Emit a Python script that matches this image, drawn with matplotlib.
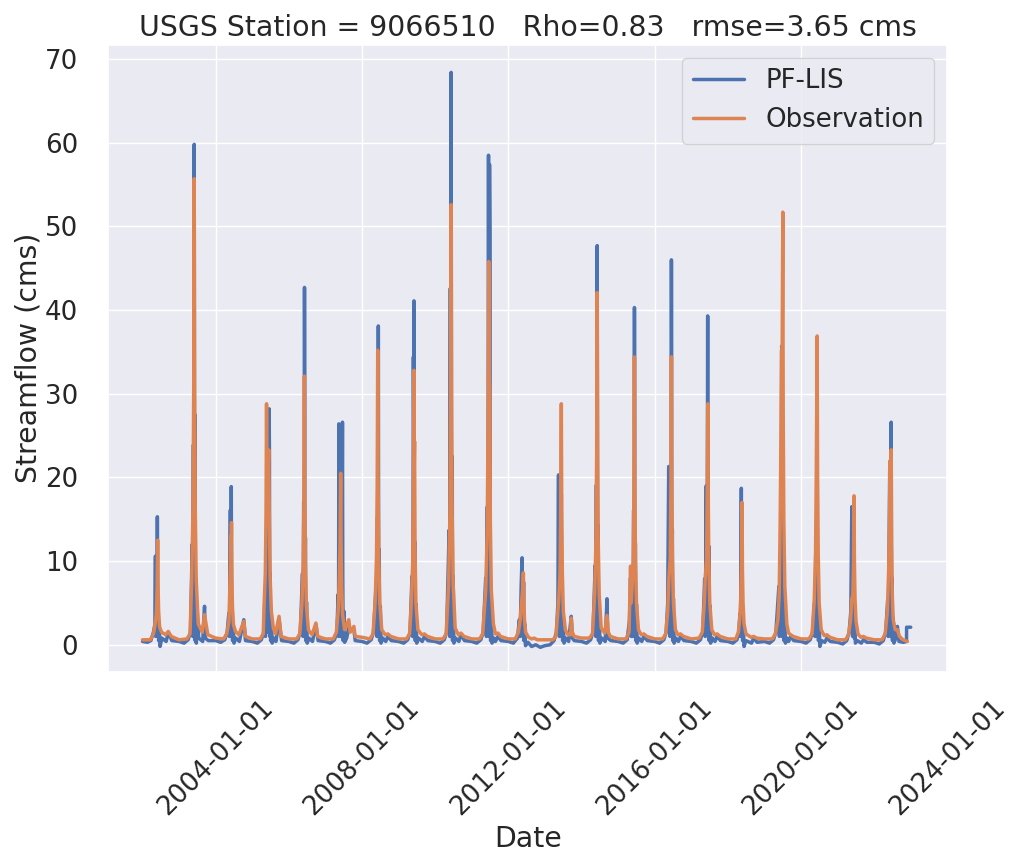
import pandas as pd
import matplotlib.pyplot as plt
import matplotlib.dates as mdates
import seaborn as sns

obs_points = [
    ("2002-01-01", 0.6), ("2002-03-20", 0.6), ("2002-04-20", 1.3), ("2002-05-07", 2.5), ("2002-05-20", 3.8), ("2002-05-27", 6.9), ("2002-06-01", 12.5), ("2002-06-05", 6.9), ("2002-06-11", 3.8), ("2002-06-21", 2.1), ("2002-07-11", 1.5), ("2002-08-20", 1.2), ("2002-09-15", 1.6), ("2002-10-15", 1.0),
    ("2003-01-01", 0.6), ("2003-03-20", 0.7), ("2003-04-20", 1.3), ("2003-05-07", 7.7), ("2003-05-20", 16.7), ("2003-05-27", 30.6), ("2003-06-01", 55.7), ("2003-06-05", 30.6), ("2003-06-08", 24.0), ("2003-06-11", 16.7), ("2003-06-21", 7.7), ("2003-07-11", 2.5), ("2003-08-20", 1.5), ("2003-09-12", 3.6), ("2003-10-15", 1.2),
    ("2004-01-01", 0.8), ("2004-03-20", 0.7), ("2004-04-20", 1.3), ("2004-05-13", 2.8), ("2004-05-26", 9.0), ("2004-05-30", 13.0), ("2004-06-02", 9.5), ("2004-06-07", 14.6), ("2004-06-11", 8.0), ("2004-06-17", 4.4), ("2004-06-27", 2.4), ("2004-07-17", 1.6), ("2004-08-20", 1.2), ("2004-10-08", 2.8), ("2004-10-25", 1.0),
    ("2005-01-01", 0.7), ("2005-03-20", 0.7), ("2005-04-20", 1.3), ("2005-04-28", 4.5), ("2005-05-11", 8.6), ("2005-05-18", 15.8), ("2005-05-23", 28.8), ("2005-05-28", 18.0), ("2005-06-05", 20.0), ("2005-06-14", 23.3), ("2005-06-20", 15.0), ("2005-06-28", 8.0), ("2005-07-10", 4.0), ("2005-07-30", 2.0), ("2005-08-20", 1.3), ("2005-09-25", 3.4), ("2005-10-15", 1.0),
    ("2006-01-01", 0.7), ("2006-03-20", 0.7), ("2006-04-20", 1.3), ("2006-05-11", 4.9), ("2006-05-24", 9.6), ("2006-05-31", 17.7), ("2006-06-05", 32.1), ("2006-06-09", 17.7), ("2006-06-15", 9.6), ("2006-06-25", 4.7), ("2006-07-15", 1.8), ("2006-08-20", 1.2), ("2006-09-28", 2.6), ("2006-10-15", 1.0),
    ("2007-01-01", 0.7), ("2007-03-20", 0.7), ("2007-04-20", 1.5), ("2007-05-08", 4.0), ("2007-05-20", 8.0), ("2007-05-27", 12.0), ("2007-06-02", 20.5), ("2007-06-06", 12.0), ("2007-06-12", 7.0), ("2007-06-22", 3.5), ("2007-07-12", 1.8), ("2007-08-22", 3.0), ("2007-09-05", 1.5), ("2007-10-12", 2.2), ("2007-10-25", 1.0),
    ("2008-01-01", 0.9), ("2008-03-20", 0.7), ("2008-04-20", 1.3), ("2008-05-12", 5.2), ("2008-05-25", 10.6), ("2008-06-01", 19.4), ("2008-06-06", 35.2), ("2008-06-10", 19.4), ("2008-06-16", 10.6), ("2008-06-26", 5.1), ("2008-07-16", 1.8), ("2008-08-20", 1.2), ("2008-09-15", 1.3), ("2008-10-15", 1.0),
    ("2009-01-01", 0.7), ("2009-03-20", 0.7), ("2009-04-20", 1.3), ("2009-05-08", 5.0), ("2009-05-21", 9.8), ("2009-05-28", 18.0), ("2009-06-02", 32.8), ("2009-06-06", 22.0), ("2009-06-09", 24.3), ("2009-06-13", 12.0), ("2009-06-22", 5.0), ("2009-07-12", 1.8), ("2009-08-20", 1.2), ("2009-09-15", 1.3), ("2009-10-15", 1.0),
    ("2010-01-01", 0.7), ("2010-03-20", 0.7), ("2010-04-20", 1.3), ("2010-05-15", 7.3), ("2010-05-28", 15.8), ("2010-06-04", 28.9), ("2010-06-09", 52.6), ("2010-06-13", 28.9), ("2010-06-19", 15.8), ("2010-06-29", 7.3), ("2010-07-19", 2.0), ("2010-08-20", 1.2), ("2010-09-15", 1.4), ("2010-10-15", 1.0),
    ("2011-01-01", 0.7), ("2011-03-20", 0.7), ("2011-04-20", 1.3), ("2011-05-20", 6.5), ("2011-06-04", 13.7), ("2011-06-12", 25.2), ("2011-06-20", 45.8), ("2011-06-25", 32.0), ("2011-06-30", 30.0), ("2011-07-05", 15.0), ("2011-07-15", 6.5), ("2011-08-05", 2.5), ("2011-08-25", 1.3), ("2011-09-20", 1.4), ("2011-10-15", 1.0),
    ("2012-01-01", 0.7), ("2012-03-10", 0.7), ("2012-04-10", 1.5), ("2012-04-28", 3.0), ("2012-05-12", 5.0), ("2012-05-22", 6.5), ("2012-05-30", 8.6), ("2012-06-04", 5.0), ("2012-06-10", 3.0), ("2012-06-22", 1.5), ("2012-07-20", 0.9), ("2012-08-20", 0.7), ("2012-09-15", 0.8), ("2012-10-15", 0.6),
    ("2013-01-01", 0.6), ("2013-03-20", 0.6), ("2013-04-20", 1.0), ("2013-05-10", 4.0), ("2013-05-19", 5.5), ("2013-05-31", 8.6), ("2013-06-07", 15.8), ("2013-06-13", 28.8), ("2013-06-17", 15.8), ("2013-06-23", 8.6), ("2013-07-03", 4.0), ("2013-07-23", 1.8), ("2013-08-20", 1.2), ("2013-09-14", 1.2), ("2013-09-20", 3.2), ("2013-10-01", 1.5), ("2013-10-20", 1.0),
    ("2014-01-01", 0.8), ("2014-03-20", 0.8), ("2014-04-20", 1.3), ("2014-05-12", 6.2), ("2014-05-25", 12.6), ("2014-06-01", 23.2), ("2014-06-06", 42.1), ("2014-06-10", 23.2), ("2014-06-16", 12.6), ("2014-06-26", 6.0), ("2014-07-16", 2.0), ("2014-08-20", 1.4), ("2014-09-12", 3.5), ("2014-09-25", 1.5), ("2014-10-15", 1.0),
    ("2015-01-01", 0.7), ("2015-03-20", 0.7), ("2015-04-20", 1.5), ("2015-05-05", 9.4), ("2015-05-12", 5.0), ("2015-05-25", 8.0), ("2015-06-01", 10.3), ("2015-06-08", 18.9), ("2015-06-13", 34.4), ("2015-06-17", 18.9), ("2015-06-23", 10.3), ("2015-07-03", 5.0), ("2015-07-23", 1.8), ("2015-08-20", 1.2), ("2015-09-15", 1.3), ("2015-10-15", 1.0),
    ("2016-01-01", 0.7), ("2016-03-20", 0.7), ("2016-04-20", 1.3), ("2016-05-10", 4.0), ("2016-05-22", 8.0), ("2016-06-04", 10.3), ("2016-06-11", 18.9), ("2016-06-16", 34.4), ("2016-06-20", 18.9), ("2016-06-26", 10.3), ("2016-07-06", 5.0), ("2016-07-26", 1.8), ("2016-08-20", 1.2), ("2016-09-15", 1.3), ("2016-10-15", 1.0),
    ("2017-01-01", 0.7), ("2017-03-20", 0.8), ("2017-04-20", 1.5), ("2017-05-10", 5.0), ("2017-05-20", 8.0), ("2017-06-02", 10.3), ("2017-06-09", 18.9), ("2017-06-14", 28.8), ("2017-06-18", 18.9), ("2017-06-24", 10.3), ("2017-07-04", 5.0), ("2017-07-24", 1.8), ("2017-08-20", 1.2), ("2017-09-15", 1.3), ("2017-10-15", 1.0),
    ("2018-01-01", 0.7), ("2018-03-20", 0.7), ("2018-04-15", 1.5), ("2018-04-28", 3.0), ("2018-05-08", 5.0), ("2018-05-15", 9.0), ("2018-05-22", 17.0), ("2018-05-26", 9.0), ("2018-06-01", 5.0), ("2018-06-11", 2.5), ("2018-07-01", 1.3), ("2018-08-20", 0.9), ("2018-09-15", 1.0), ("2018-10-15", 0.8),
    ("2019-01-01", 0.7), ("2019-03-20", 0.7), ("2019-04-20", 1.3), ("2019-05-15", 3.0), ("2019-05-28", 6.0), ("2019-06-06", 14.0), ("2019-06-14", 24.0), ("2019-06-20", 35.0), ("2019-06-27", 35.8), ("2019-07-03", 51.7), ("2019-07-07", 28.0), ("2019-07-13", 15.0), ("2019-07-23", 7.0), ("2019-08-12", 2.5), ("2019-08-30", 1.4), ("2019-09-20", 1.2), ("2019-10-15", 1.0),
    ("2020-01-01", 0.7), ("2020-03-20", 0.7), ("2020-04-20", 1.3), ("2020-05-12", 5.4), ("2020-05-25", 11.1), ("2020-06-01", 20.3), ("2020-06-10", 36.9), ("2020-06-14", 20.3), ("2020-06-20", 11.1), ("2020-06-30", 5.0), ("2020-07-20", 1.8), ("2020-08-20", 1.1), ("2020-09-15", 1.2), ("2020-10-15", 0.9),
    ("2021-01-01", 0.6), ("2021-03-20", 0.6), ("2021-04-20", 1.2), ("2021-05-10", 3.0), ("2021-05-22", 5.5), ("2021-06-01", 6.0), ("2021-06-08", 9.8), ("2021-06-13", 17.8), ("2021-06-17", 9.8), ("2021-06-23", 5.5), ("2021-07-03", 2.8), ("2021-07-23", 1.3), ("2021-08-20", 0.9), ("2021-09-15", 1.0), ("2021-10-15", 0.8),
    ("2022-01-01", 0.6), ("2022-03-20", 0.6), ("2022-04-20", 1.3), ("2022-05-12", 4.0), ("2022-05-25", 9.0), ("2022-06-01", 14.0), ("2022-06-08", 22.0), ("2022-06-13", 14.0), ("2022-06-19", 23.3), ("2022-06-23", 12.0), ("2022-06-29", 6.5), ("2022-07-09", 3.0), ("2022-07-29", 1.8), ("2022-08-20", 1.8), ("2022-09-10", 1.0), ("2022-10-15", 0.6), ("2022-11-27", 0.4),
]

pf_points = [
    ("2002-01-01", 0.4), ("2002-02-20", 0.3), ("2002-03-25", 0.5), ("2002-04-20", 1.5), ("2002-05-05", 2.5), ("2002-05-10", 10.6), ("2002-05-13", 1.0), ("2002-05-21", 6.1), ("2002-05-24", 1.5), ("2002-05-28", 9.2), ("2002-05-29", 15.3), ("2002-05-31", 7.6), ("2002-06-03", 1.0), ("2002-06-07", 4.6), ("2002-06-11", 0.5), ("2002-06-18", 1.8), ("2002-06-25", -0.2), ("2002-07-13", 0.8), ("2002-08-25", 0.4), ("2002-09-15", 1.5), ("2002-10-20", 0.5),
    ("2003-01-01", 0.4), ("2003-02-20", 0.2), ("2003-04-01", 0.6), ("2003-04-25", 1.5), ("2003-05-12", 12.0), ("2003-05-18", 1.0), ("2003-05-24", 23.9), ("2003-05-27", 1.5), ("2003-05-30", 30.8), ("2003-06-01", 59.8), ("2003-06-03", 29.9), ("2003-06-05", 1.0), ("2003-06-08", 27.5), ("2003-06-11", 0.5), ("2003-06-16", 8.0), ("2003-06-22", 0.2), ("2003-07-01", 4.0), ("2003-07-16", 0.8), ("2003-08-25", 0.4), ("2003-09-12", 4.6), ("2003-09-20", 0.8), ("2003-10-20", 0.5),
    ("2004-01-01", 0.5), ("2004-02-20", 0.3), ("2004-04-01", 0.6), ("2004-04-25", 1.5), ("2004-05-12", 3.8), ("2004-05-18", 1.0), ("2004-05-27", 16.1), ("2004-05-30", 1.5), ("2004-06-04", 11.3), ("2004-06-05", 18.9), ("2004-06-07", 9.5), ("2004-06-10", 1.0), ("2004-06-14", 5.7), ("2004-06-18", 0.5), ("2004-06-25", 2.3), ("2004-07-02", 0.2), ("2004-07-20", 0.8), ("2004-08-25", 0.4), ("2004-10-08", 3.0), ("2004-10-25", 0.5),
    ("2005-01-01", 0.4), ("2005-02-20", 0.2), ("2005-04-01", 0.6), ("2005-04-25", 1.5), ("2005-05-08", 5.8), ("2005-05-12", 1.0), ("2005-05-20", 11.5), ("2005-05-26", 1.5), ("2005-06-01", 17.0), ("2005-06-05", 2.0), ("2005-06-12", 16.9), ("2005-06-18", 28.2), ("2005-06-21", 23.0), ("2005-06-24", 1.0), ("2005-06-28", 8.5), ("2005-07-03", 0.5), ("2005-07-10", 3.4), ("2005-07-18", 0.2), ("2005-08-05", 0.8), ("2005-08-25", 0.4), ("2005-09-25", 3.0), ("2005-10-20", 0.5),
    ("2006-01-01", 0.4), ("2006-02-20", 0.2), ("2006-04-01", 0.6), ("2006-04-25", 1.5), ("2006-05-17", 8.5), ("2006-05-23", 1.0), ("2006-05-29", 17.1), ("2006-06-01", 1.5), ("2006-06-05", 25.6), ("2006-06-06", 42.7), ("2006-06-08", 21.4), ("2006-06-11", 1.0), ("2006-06-15", 12.8), ("2006-06-19", 0.5), ("2006-06-26", 5.1), ("2006-07-03", 0.2), ("2006-07-21", 0.8), ("2006-08-25", 0.4), ("2006-09-28", 2.4), ("2006-10-20", 0.5),
    ("2007-01-01", 0.4), ("2007-02-20", 0.2), ("2007-04-01", 0.6), ("2007-04-25", 1.5), ("2007-05-08", 6.0), ("2007-05-12", 1.0), ("2007-05-15", 26.4), ("2007-05-18", 10.0), ("2007-05-22", 1.5), ("2007-05-27", 12.0), ("2007-05-31", 1.0), ("2007-06-05", 15.0), ("2007-06-10", 1.0), ("2007-06-16", 14.0), ("2007-06-20", 26.6), ("2007-06-23", 8.0), ("2007-06-27", 0.5), ("2007-07-05", 4.0), ("2007-07-12", 0.3), ("2007-08-01", 0.8), ("2007-08-22", 2.0), ("2007-10-12", 1.8), ("2007-10-25", 0.5),
    ("2008-01-01", 0.4), ("2008-02-20", 0.2), ("2008-04-01", 0.6), ("2008-04-25", 1.5), ("2008-05-23", 7.6), ("2008-05-29", 1.0), ("2008-06-04", 15.2), ("2008-06-07", 1.5), ("2008-06-11", 22.9), ("2008-06-12", 38.1), ("2008-06-14", 19.0), ("2008-06-17", 1.0), ("2008-06-21", 11.4), ("2008-06-25", 0.5), ("2008-07-02", 4.6), ("2008-07-09", 0.2), ("2008-07-27", 0.8), ("2008-08-25", 0.4), ("2008-09-15", 1.0), ("2008-10-20", 0.5),
    ("2009-01-01", 0.4), ("2009-02-20", 0.2), ("2009-04-01", 0.6), ("2009-04-25", 1.5), ("2009-05-14", 8.2), ("2009-05-20", 1.0), ("2009-05-25", 16.4), ("2009-05-28", 34.4), ("2009-06-01", 24.7), ("2009-06-03", 41.1), ("2009-06-05", 20.5), ("2009-06-08", 1.0), ("2009-06-12", 12.3), ("2009-06-16", 0.5), ("2009-06-23", 4.9), ("2009-06-30", 0.2), ("2009-07-18", 0.8), ("2009-08-25", 0.4), ("2009-09-15", 1.0), ("2009-10-20", 0.5),
    ("2010-01-01", 0.4), ("2010-02-20", 0.2), ("2010-04-01", 0.6), ("2010-04-25", 1.5), ("2010-05-20", 13.7), ("2010-05-26", 1.0), ("2010-06-01", 42.6), ("2010-06-04", 1.5), ("2010-06-08", 41.0), ("2010-06-09", 68.4), ("2010-06-11", 34.2), ("2010-06-14", 1.0), ("2010-06-20", 22.5), ("2010-06-23", 0.5), ("2010-06-29", 8.2), ("2010-07-06", 0.2), ("2010-07-24", 0.8), ("2010-08-25", 0.4), ("2010-09-15", 1.2), ("2010-10-20", 0.5),
    ("2011-01-01", 0.4), ("2011-02-20", 0.2), ("2011-04-01", 0.6), ("2011-04-25", 1.5), ("2011-05-20", 8.0), ("2011-05-27", 1.0), ("2011-06-05", 16.5), ("2011-06-09", 1.5), ("2011-06-14", 30.0), ("2011-06-17", 58.5), ("2011-06-20", 30.0), ("2011-06-23", 1.0), ("2011-06-27", 57.4), ("2011-07-01", 49.2), ("2011-07-04", 10.0), ("2011-07-08", 0.5), ("2011-07-15", 5.0), ("2011-07-22", 0.2), ("2011-08-10", 0.8), ("2011-08-25", 0.4), ("2011-09-20", 1.0), ("2011-10-20", 0.5),
    ("2012-01-01", 0.4), ("2012-02-20", 0.2), ("2012-04-01", 0.8), ("2012-04-20", 3.0), ("2012-04-28", 1.0), ("2012-05-08", 7.0), ("2012-05-17", 10.4), ("2012-05-22", 5.0), ("2012-05-26", 1.0), ("2012-06-01", 7.5), ("2012-06-05", 0.5), ("2012-06-12", 2.5), ("2012-06-20", -0.1), ("2012-07-15", 0.3), ("2012-08-20", -0.2), ("2012-10-01", 0.0), ("2012-11-15", -0.3),
    ("2013-01-01", -0.1), ("2013-02-20", 0.0), ("2013-04-01", 0.5), ("2013-04-25", 1.5), ("2013-05-10", 5.0), ("2013-05-16", 20.3), ("2013-05-19", 3.0), ("2013-05-25", 1.0), ("2013-05-31", 11.5), ("2013-06-05", 1.5), ("2013-06-10", 14.0), ("2013-06-13", 18.0), ("2013-06-15", 9.0), ("2013-06-18", 1.0), ("2013-06-22", 5.2), ("2013-06-26", 0.5), ("2013-07-03", 2.5), ("2013-07-10", 0.2), ("2013-07-28", 0.8), ("2013-08-25", 0.4), ("2013-09-20", 3.4), ("2013-10-01", 0.8), ("2013-10-20", 0.5),
    ("2014-01-01", 0.4), ("2014-02-20", 0.2), ("2014-04-01", 0.6), ("2014-04-25", 1.5), ("2014-05-17", 9.5), ("2014-05-23", 1.0), ("2014-05-29", 19.1), ("2014-06-01", 1.5), ("2014-06-05", 28.6), ("2014-06-06", 47.7), ("2014-06-08", 23.9), ("2014-06-11", 1.0), ("2014-06-15", 14.3), ("2014-06-19", 0.5), ("2014-06-26", 5.7), ("2014-07-03", 0.2), ("2014-07-21", 0.8), ("2014-08-25", 0.4), ("2014-09-12", 5.5), ("2014-09-20", 0.8), ("2014-10-20", 0.5),
    ("2015-01-01", 0.4), ("2015-02-20", 0.2), ("2015-04-01", 0.6), ("2015-04-25", 3.0), ("2015-05-05", 8.0), ("2015-05-12", 1.0), ("2015-05-24", 8.1), ("2015-05-30", 1.0), ("2015-06-05", 16.1), ("2015-06-08", 1.5), ("2015-06-12", 24.2), ("2015-06-13", 40.3), ("2015-06-15", 20.2), ("2015-06-18", 1.0), ("2015-06-22", 12.1), ("2015-06-26", 0.5), ("2015-07-03", 4.8), ("2015-07-10", 0.2), ("2015-07-28", 0.8), ("2015-08-25", 0.4), ("2015-09-15", 1.0), ("2015-10-20", 0.5),
    ("2016-01-01", 0.4), ("2016-02-20", 0.2), ("2016-04-01", 0.6), ("2016-04-25", 1.5), ("2016-05-10", 5.0), ("2016-05-20", 21.3), ("2016-05-24", 3.0), ("2016-06-02", 1.0), ("2016-06-08", 18.4), ("2016-06-11", 1.5), ("2016-06-15", 27.6), ("2016-06-16", 46.0), ("2016-06-18", 23.0), ("2016-06-21", 1.0), ("2016-06-25", 13.8), ("2016-06-29", 0.5), ("2016-07-06", 5.5), ("2016-07-13", 0.2), ("2016-07-31", 0.8), ("2016-08-25", 0.4), ("2016-09-15", 1.0), ("2016-10-20", 0.5),
    ("2017-01-01", 0.4), ("2017-02-20", 0.2), ("2017-04-01", 0.6), ("2017-04-25", 1.5), ("2017-05-14", 7.9), ("2017-05-20", 1.0), ("2017-05-30", 19.0), ("2017-06-03", 1.5), ("2017-06-10", 20.0), ("2017-06-13", 39.3), ("2017-06-15", 15.0), ("2017-06-17", 27.1), ("2017-06-20", 1.0), ("2017-06-24", 11.8), ("2017-06-28", 0.5), ("2017-07-05", 4.7), ("2017-07-12", 0.2), ("2017-07-30", 0.8), ("2017-08-25", 0.4), ("2017-09-15", 1.0), ("2017-10-20", 0.5),
    ("2018-01-01", 0.4), ("2018-02-20", 0.2), ("2018-04-01", 0.6), ("2018-04-20", 1.5), ("2018-05-01", 3.7), ("2018-05-06", 1.0), ("2018-05-12", 11.2), ("2018-05-15", 18.7), ("2018-05-17", 9.4), ("2018-05-20", 1.0), ("2018-05-24", 5.6), ("2018-05-28", 0.5), ("2018-06-04", 2.2), ("2018-06-11", -0.2), ("2018-06-29", 0.5), ("2018-08-25", 0.2), ("2018-09-15", 0.8), ("2018-10-20", 0.3),
    ("2019-01-01", 0.4), ("2019-02-20", 0.2), ("2019-04-01", 0.6), ("2019-04-25", 1.5), ("2019-05-25", 7.0), ("2019-05-30", 1.0), ("2019-06-08", 10.0), ("2019-06-12", 1.5), ("2019-06-19", 20.0), ("2019-06-22", 35.7), ("2019-06-25", 18.0), ("2019-06-28", 1.0), ("2019-07-03", 20.0), ("2019-07-06", 1.0), ("2019-07-11", 10.0), ("2019-07-15", 0.5), ("2019-07-22", 4.0), ("2019-07-29", 0.2), ("2019-08-15", 0.8), ("2019-08-30", 0.4), ("2019-09-20", 1.0), ("2019-10-20", 0.5),
    ("2020-01-01", 0.4), ("2020-02-20", 0.2), ("2020-04-01", 0.6), ("2020-04-25", 1.5), ("2020-05-15", 5.0), ("2020-05-20", 1.0), ("2020-05-28", 12.5), ("2020-06-01", 1.5), ("2020-06-07", 18.0), ("2020-06-10", 28.0), ("2020-06-12", 14.0), ("2020-06-15", 1.0), ("2020-06-19", 8.0), ("2020-06-23", 0.5), ("2020-06-30", 3.0), ("2020-07-07", -0.2), ("2020-07-25", 0.5), ("2020-08-25", 0.3), ("2020-09-15", 0.8), ("2020-10-20", 0.4),
    ("2021-01-01", 0.3), ("2021-02-20", 0.1), ("2021-04-01", 0.5), ("2021-04-25", 1.5), ("2021-05-12", 4.0), ("2021-05-22", 16.5), ("2021-05-25", 3.0), ("2021-05-30", 1.0), ("2021-06-05", 6.6), ("2021-06-09", 1.0), ("2021-06-12", 9.9), ("2021-06-14", 5.0), ("2021-06-17", 0.8), ("2021-06-21", 2.5), ("2021-06-27", 0.2), ("2021-07-15", 0.5), ("2021-08-25", 0.2), ("2021-09-15", 0.6), ("2021-10-20", 0.3),
    ("2022-01-01", 0.3), ("2022-02-20", 0.1), ("2022-04-01", 0.5), ("2022-04-25", 1.5), ("2022-05-15", 5.3), ("2022-05-21", 1.0), ("2022-06-05", 21.9), ("2022-06-09", 1.5), ("2022-06-14", 10.6), ("2022-06-17", 1.0), ("2022-06-19", 26.6), ("2022-06-21", 13.3), ("2022-06-24", 1.0), ("2022-06-28", 8.0), ("2022-07-02", 0.5), ("2022-07-09", 3.2), ("2022-07-16", 0.2), ("2022-08-05", 0.8), ("2022-08-20", 2.2), ("2022-09-05", 0.4), ("2022-10-20", 0.3), ("2022-11-19", 0.4), ("2022-11-20", 2.1), ("2022-12-31", 2.1),
]

station = 9066510
rho = 0.83
rmse = 3.65

pf = pd.DataFrame(pf_points, columns=['date', 'flow'])
pf['date'] = pd.to_datetime(pf['date'])
obs = pd.DataFrame(obs_points, columns=['date', 'flow'])
obs['date'] = pd.to_datetime(obs['date'])

sns.set_theme(style='darkgrid', font_scale=1.7)

fig = plt.figure(figsize=(10.1, 8.61), dpi=100)
ax = fig.add_axes([0.107, 0.22, 0.831, 0.728])

ax.plot(pf['date'], pf['flow'], label='PF-LIS', linewidth=2.5)
ax.plot(obs['date'], obs['flow'], label='Observation', linewidth=2.5)

ax.xaxis.set_major_locator(mdates.YearLocator(4))
ax.xaxis.set_major_formatter(mdates.DateFormatter('%Y-%m-%d'))
ax.set_xlim(pd.Timestamp('2001-01-22'), pd.Timestamp('2024-01-01'))
ax.set_ylim(-3.2, 71.7)
ax.tick_params(axis='x', pad=plt.rcParams['xtick.major.pad'] + 7)
ax.tick_params(axis='y', pad=plt.rcParams['ytick.major.pad'] + 12)
plt.setp(ax.get_xticklabels(), rotation=45)

ax.set_xlabel('Date')
ax.set_ylabel('Streamflow (cms)', labelpad=2)
ax.set_title(f'USGS Station = {station}   Rho={rho}   rmse={rmse} cms')
ax.legend(loc='upper right')

fig.savefig('out.png', dpi=100)
